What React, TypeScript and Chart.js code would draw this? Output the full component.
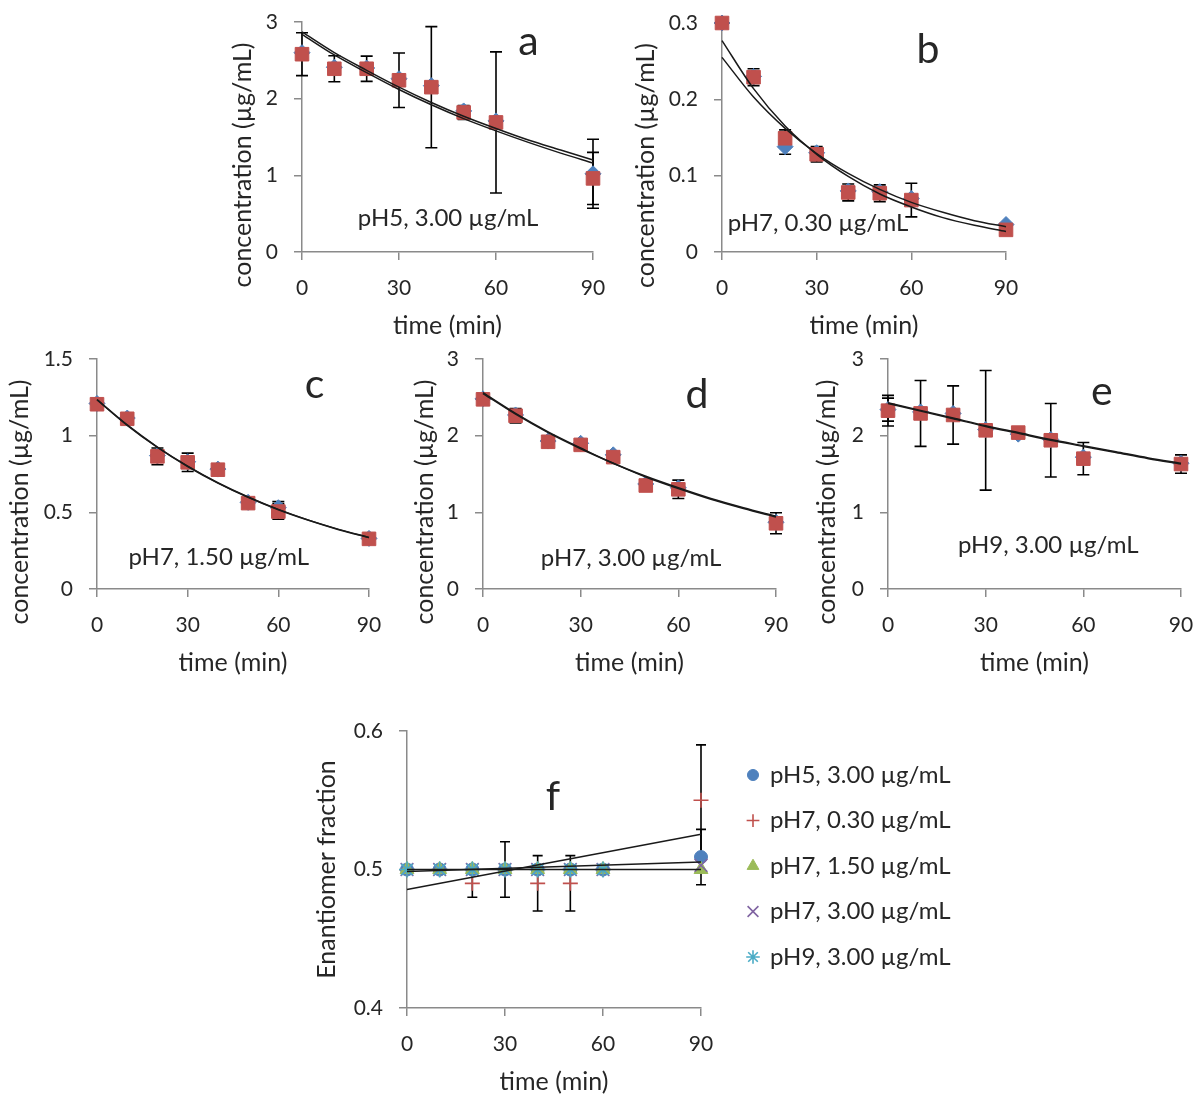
import React, { useEffect, useRef } from 'react';
import { Chart, registerables } from 'chart.js';
import { drawPoint } from 'chart.js/helpers';

Chart.register(...registerables);

const FONT = "Lato, 'Open Sans', 'DejaVu Sans', sans-serif";
const RED = '#C0504D';
const BLUE = '#4F81BD';
const GREEN = '#9BBB59';
const PURPLE = '#8064A2';
const CYAN = '#4BACC6';
const AXIS = '#8a8a8a';
const TEXT = '#262626';
const LINE = '#1a1a1a';

const TICK_SIZE = 21;
const TITLE_SIZE = 25;
const NOTE_SIZE = 24;
const LETTER_SIZE = 41;

// ---------- data ----------
const sampleTimes = [0, 10, 20, 30, 40, 50, 60, 90];
const fitTimes = [0, 10, 20, 30, 40, 50, 60, 70, 80, 90];
const xTickValues = [0, 30, 60, 90];

// panel a: pH5, 3.00 µg/mL
const aYTicks = [0, 1, 2, 3];
const aBlue = [2.6, 2.41, 2.4, 2.26, 2.17, 1.84, 1.71, 1.02];
const aBlueErr = [null, null, null, null, null, null, null, 0.45];
const aRed = [2.58, 2.39, 2.39, 2.24, 2.15, 1.82, 1.69, 0.96];
const aRedErr = [0.28, 0.17, 0.165, 0.355, 0.79, 0.09, 0.92, 0.34];
const aFit1 = [2.87, 2.6, 2.37, 2.15, 1.95, 1.77, 1.61, 1.46, 1.33, 1.2];
const aFit2 = [2.84, 2.57, 2.34, 2.12, 1.92, 1.74, 1.58, 1.43, 1.29, 1.16];

// panel b: pH7, 0.30 µg/mL
const bYTicks = [0, 0.1, 0.2, 0.3];
const bBlue = [0.3, 0.23, 0.138, 0.13, 0.08, 0.079, 0.07, 0.036];
const bBlueErr = [null, null, 0.01, null, null, null, null, null];
const bRed = [0.3, 0.229, 0.149, 0.128, 0.078, 0.077, 0.068, 0.029];
const bRedErr = [0.003, 0.011, 0.011, 0.01, 0.011, 0.011, 0.022, 0.003];
const bFit1 = [0.277, 0.214, 0.165, 0.128, 0.099, 0.076, 0.059, 0.045, 0.035, 0.027];
const bFit2 = [0.255, 0.203, 0.162, 0.129, 0.103, 0.082, 0.065, 0.052, 0.041, 0.033];

// panel c: pH7, 1.50 µg/mL
const cYTicks = [0, 0.5, 1, 1.5];
const cBlue = [1.21, 1.115, 0.87, 0.83, 0.782, 0.565, 0.53, 0.33];
const cBlueErr = [null, null, null, null, null, null, 0.04, null];
const cRed = [1.205, 1.11, 0.865, 0.826, 0.778, 0.56, 0.505, 0.327];
const cRedErr = [0.01, 0.01, 0.055, 0.06, 0.01, 0.01, 0.05, 0.01];
const cFit1 = [1.233, 1.067, 0.923, 0.799, 0.691, 0.598, 0.517, 0.448, 0.387, 0.335];
const cFit2 = [1.236, 1.07, 0.926, 0.801, 0.693, 0.6, 0.519, 0.449, 0.389, 0.336];

// panel d: pH7, 3.00 µg/mL
const dYTicks = [0, 1, 2, 3];
const dBlue = [2.48, 2.27, 1.93, 1.9, 1.75, 1.37, 1.32, 0.87];
const dBlueErr = [null, null, null, null, null, null, null, null];
const dRed = [2.474, 2.26, 1.92, 1.88, 1.72, 1.35, 1.3, 0.857];
const dRedErr = [0.02, 0.095, 0.03, 0.03, 0.03, 0.03, 0.12, 0.137];
const dFit1 = [2.55, 2.28, 2.04, 1.83, 1.64, 1.46, 1.31, 1.17, 1.05, 0.94];
const dFit2 = [2.56, 2.29, 2.05, 1.84, 1.64, 1.47, 1.32, 1.18, 1.06, 0.95];

// panel e: pH9, 3.00 µg/mL
const eYTicks = [0, 1, 2, 3];
const eBlue = [2.34, 2.31, 2.29, 2.08, 2.02, 1.95, 1.72, 1.64];
const eBlueErr = [0.15, null, null, null, null, null, null, null];
const eRed = [2.326, 2.29, 2.27, 2.07, 2.04, 1.94, 1.7, 1.63];
const eRedErr = [0.2, 0.43, 0.38, 0.78, 0.04, 0.48, 0.21, 0.12];
const eFit1 = [2.42, 2.32, 2.22, 2.12, 2.03, 1.94, 1.86, 1.78, 1.7, 1.63];
const eFit2 = [2.43, 2.33, 2.23, 2.13, 2.04, 1.95, 1.87, 1.79, 1.71, 1.64];

// panel f: enantiomer fraction
const fYTicks = [0.4, 0.5, 0.6];
const efPH5 = [0.5, 0.5, 0.5, 0.5, 0.5, 0.5, 0.5, 0.509];
const efPH5Err = [null, null, null, null, null, null, null, 0.02];
const efPH7Low = [0.5, 0.5, 0.49, 0.5, 0.49, 0.49, 0.5, 0.55];
const efPH7LowErr = [null, null, 0.01, 0.02, 0.02, 0.02, null, 0.04];
const efPH7Mid = [0.5, 0.5, 0.5, 0.5, 0.5, 0.5, 0.5, 0.5];
const efPH7High = [0.5, 0.5, 0.5, 0.5, 0.5, 0.5, 0.5, 0.503];
const efPH9 = [0.5, 0.5, 0.5, 0.5, 0.5, 0.5, 0.5, null];
const trendTimes = [0, 90];
const trendPH7Low = [0.4855, 0.5255];
const trendPH5 = [0.4985, 0.5055];
const trendFlat = [0.5, 0.5];

const CONC_TITLE = 'concentration (µg/mL)';

function pair(label, blue, blueErr, red, redErr) {
  return [
    { label: label + ' enantiomer 1', times: sampleTimes, values: blue, errors: blueErr, color: BLUE, style: 'rectRot', radius: 8, filled: true, order: 3 },
    { label: label + ' enantiomer 2', times: sampleTimes, values: red, errors: redErr, color: RED, style: 'rect', radius: 9.6, filled: true, order: 2 },
  ];
}
function fits(a, b) {
  return [
    { times: fitTimes, values: a, smooth: true },
    { times: fitTimes, values: b, smooth: true },
  ];
}

const panels = [
  {
    id: 'a', canvas: [220, 0, 400, 345], plot: [302, 22, 593, 252], yMin: 0, yMax: 3, yTicks: aYTicks,
    yTitle: CONC_TITLE, yTitleOffset: 59, yTitleShift: 28, letter: 'a', letterAt: [70, 2.74],
    note: 'pH5, 3.00 µg/mL', noteAt: [45.2, 0.44], cap: 6,
    series: pair('pH5', aBlue, aBlueErr, aRed, aRedErr), fits: fits(aFit1, aFit2),
  },
  {
    id: 'b', canvas: [630, 0, 400, 345], plot: [722, 23, 1006, 252], yMin: 0, yMax: 0.3, yTicks: bYTicks,
    yTitle: CONC_TITLE, yTitleOffset: 76, yTitleShift: 28, letter: 'b', letterAt: [65.3, 0.265],
    note: 'pH7, 0.30 µg/mL', noteAt: [30.4, 0.038], cap: 6,
    series: pair('pH7 0.30', bBlue, bBlueErr, bRed, bRedErr), fits: fits(bFit1, bFit2),
  },
  {
    id: 'c', canvas: [0, 345, 395, 345], plot: [97, 359, 369, 589], yMin: 0, yMax: 1.5, yTicks: cYTicks,
    yTitle: CONC_TITLE, yTitleOffset: 77, yTitleShift: 28, letter: 'c', letterAt: [72, 1.33],
    note: 'pH7, 1.50 µg/mL', noteAt: [40.3, 0.21], cap: 6,
    series: pair('pH7 1.50', cBlue, cBlueErr, cRed, cRedErr), fits: fits(cFit1, cFit2),
  },
  {
    id: 'd', canvas: [400, 345, 400, 345], plot: [483, 359, 776, 589], yMin: 0, yMax: 3, yTicks: dYTicks,
    yTitle: CONC_TITLE, yTitleOffset: 58, yTitleShift: 28, letter: 'd', letterAt: [65.7, 2.53],
    note: 'pH7, 3.00 µg/mL', noteAt: [45.5, 0.4], cap: 6,
    series: pair('pH7 3.00', dBlue, dBlueErr, dRed, dRedErr), fits: fits(dFit1, dFit2),
  },
  {
    id: 'e', canvas: [805, 345, 395, 345], plot: [888, 359, 1181, 589], yMin: 0, yMax: 3, yTicks: eYTicks,
    yTitle: CONC_TITLE, yTitleOffset: 61, yTitleShift: 28, letter: 'e', letterAt: [65.7, 2.57],
    note: 'pH9, 3.00 µg/mL', noteAt: [49.2, 0.574], cap: 6,
    series: pair('pH9', eBlue, eBlueErr, eRed, eRedErr), fits: fits(eFit1, eFit2),
  },
  {
    id: 'f', canvas: [300, 715, 700, 387], plot: [407, 731, 701, 1008], yMin: 0.4, yMax: 0.6, yTicks: fYTicks,
    yTitle: 'Enantiomer fraction', yTitleOffset: 80, yTitleShift: 0, letter: 'f', letterAt: [44.7, 0.5526],
    note: null, noteAt: null, cap: 5, legend: { markerDx: 52, textDx: 69, firstDy: 44, gap: 45.5 },
    series: [
      { label: 'pH5, 3.00 µg/mL', times: sampleTimes, values: efPH5, errors: efPH5Err, color: BLUE, style: 'circle', radius: 6.5, filled: true, order: 5 },
      { label: 'pH7, 0.30 µg/mL', times: sampleTimes, values: efPH7Low, errors: efPH7LowErr, color: RED, style: 'cross', radius: 7.5, filled: false, order: 4 },
      { label: 'pH7, 1.50 µg/mL', times: sampleTimes, values: efPH7Mid, errors: null, color: GREEN, style: 'triangle', radius: 8, filled: true, order: 3 },
      { label: 'pH7, 3.00 µg/mL', times: sampleTimes, values: efPH7High, errors: null, color: PURPLE, style: 'crossRot', radius: 9, filled: false, order: 2 },
      { label: 'pH9, 3.00 µg/mL', times: sampleTimes, values: efPH9, errors: null, color: CYAN, style: 'star', radius: 8, filled: false, order: 1 },
    ],
    fits: [
      { times: trendTimes, values: trendPH7Low, smooth: false },
      { times: trendTimes, values: trendPH5, smooth: false },
      { times: trendTimes, values: trendFlat, smooth: false },
    ],
  },
];

function font(size) {
  return { family: FONT, size, lineHeight: 1.2 };
}

function buildChart(canvas, p) {
  const [cl, ct, cw, ch] = p.canvas;
  const [pl, pt, pr, pbt] = p.plot;
  const yAxisW = pl - cl;
  const xAxisH = ct + ch - pbt;
  const padTop = pt - ct;
  const padRight = cl + cw - pr;

  const datasets = [];
  p.series.forEach((s) => {
    datasets.push({
      label: s.label,
      data: s.times.map((t, i) => ({ x: t, y: s.values[i] })),
      showLine: false,
      pointStyle: s.style,
      pointRadius: s.radius,
      pointHoverRadius: s.radius,
      pointBackgroundColor: s.filled ? s.color : 'rgba(0,0,0,0)',
      pointBorderColor: s.color,
      pointBorderWidth: s.filled ? 1 : 1.6,
      order: s.order,
      clip: false,
    });
  });
  p.fits.forEach((f, k) => {
    datasets.push({
      label: 'fit ' + (k + 1),
      data: f.times.map((t, i) => ({ x: t, y: f.values[i] })),
      showLine: true,
      borderColor: LINE,
      borderWidth: 1.5,
      pointRadius: 0,
      pointHoverRadius: 0,
      cubicInterpolationMode: f.smooth ? 'monotone' : 'default',
      tension: 0,
      fill: false,
      order: 0,
      clip: false,
    });
  });

  const decor = {
    id: 'decor',
    beforeDatasetsDraw(chart) {
      const { ctx } = chart;
      const xs = chart.scales.x;
      const ys = chart.scales.y;
      ctx.save();
      ctx.strokeStyle = '#000';
      ctx.lineWidth = 1.6;
      p.series.forEach((s) => {
        if (!s.errors) return;
        s.errors.forEach((e, i) => {
          const v = s.values[i];
          if (!e || v == null) return;
          const x = xs.getPixelForValue(s.times[i]);
          const yt = ys.getPixelForValue(v + e);
          const yb = ys.getPixelForValue(v - e);
          ctx.beginPath();
          ctx.moveTo(x, yt);
          ctx.lineTo(x, yb);
          ctx.moveTo(x - p.cap, yt);
          ctx.lineTo(x + p.cap, yt);
          ctx.moveTo(x - p.cap, yb);
          ctx.lineTo(x + p.cap, yb);
          ctx.stroke();
        });
      });
      ctx.restore();
    },
    afterDraw(chart) {
      const { ctx, chartArea: ca } = chart;
      const xs = chart.scales.x;
      const ys = chart.scales.y;
      ctx.save();
      ctx.fillStyle = TEXT;
      // y-axis title
      ctx.save();
      ctx.translate(ca.left - p.yTitleOffset, (ca.top + ca.bottom) / 2 + p.yTitleShift);
      ctx.rotate(-Math.PI / 2);
      ctx.textAlign = 'center';
      ctx.textBaseline = 'middle';
      ctx.font = `${TITLE_SIZE}px ${FONT}`;
      ctx.fillText(p.yTitle, 0, 0);
      ctx.restore();
      // panel letter
      ctx.textAlign = 'center';
      ctx.textBaseline = 'middle';
      ctx.font = `${LETTER_SIZE}px ${FONT}`;
      ctx.fillText(p.letter, xs.getPixelForValue(p.letterAt[0]), ys.getPixelForValue(p.letterAt[1]));
      // condition note
      if (p.note) {
        ctx.font = `${NOTE_SIZE}px ${FONT}`;
        ctx.fillText(p.note, xs.getPixelForValue(p.noteAt[0]), ys.getPixelForValue(p.noteAt[1]));
      }
      // legend
      if (p.legend) {
        const L = p.legend;
        ctx.textAlign = 'left';
        ctx.font = `${NOTE_SIZE}px ${FONT}`;
        p.series.forEach((s, i) => {
          const y = ca.top + L.firstDy + i * L.gap;
          ctx.save();
          ctx.fillStyle = s.filled ? s.color : 'rgba(0,0,0,0)';
          ctx.strokeStyle = s.color;
          ctx.lineWidth = s.filled ? 1 : 1.6;
          drawPoint(ctx, { pointStyle: s.style, radius: s.radius * 0.85, rotation: 0, borderWidth: s.filled ? 1 : 1.6 }, ca.right + L.markerDx, y);
          ctx.restore();
          ctx.fillStyle = TEXT;
          ctx.fillText(s.label, ca.right + L.textDx, y);
        });
      }
      ctx.restore();
    },
  };

  const gridOpts = { drawOnChartArea: false, drawTicks: true, tickLength: 8, color: AXIS, lineWidth: 1.5 };
  const borderOpts = { display: true, color: AXIS, width: 1.5 };

  return new Chart(canvas, {
    type: 'scatter',
    data: { datasets },
    plugins: [decor],
    options: {
      responsive: false,
      animation: false,
      devicePixelRatio: 1,
      events: [],
      layout: { padding: { top: padTop, right: padRight, bottom: 0, left: 0 } },
      plugins: { legend: { display: false }, tooltip: { enabled: false } },
      scales: {
        x: {
          type: 'linear',
          position: 'bottom',
          min: 0,
          max: 90,
          afterBuildTicks: (s) => { s.ticks = xTickValues.map((v) => ({ value: v })); },
          afterFit: (s) => {
            s.height = xAxisH;
            s.paddingLeft = 0;
            s.paddingRight = 0;
          },
          ticks: { color: TEXT, font: font(TICK_SIZE), padding: 36 - 8 - 0.6 * TICK_SIZE, maxRotation: 0, autoSkip: false, callback: (v) => String(v) },
          grid: gridOpts,
          border: borderOpts,
          title: { display: true, text: 'time (min)', color: TEXT, font: font(TITLE_SIZE), padding: { top: 0, bottom: xAxisH - 74 - 0.6 * TITLE_SIZE } },
        },
        y: {
          type: 'linear',
          position: 'left',
          min: p.yMin,
          max: p.yMax,
          afterBuildTicks: (s) => { s.ticks = p.yTicks.map((v) => ({ value: v })); },
          afterFit: (s) => {
            s.width = yAxisW;
            s.paddingTop = 0;
            s.paddingBottom = 0;
          },
          ticks: { color: TEXT, font: font(TICK_SIZE), padding: 16, autoSkip: false, callback: (v) => String(v) },
          grid: gridOpts,
          border: borderOpts,
        },
      },
    },
  });
}

function Panel({ p }) {
  const ref = useRef(null);
  useEffect(() => {
    const chart = buildChart(ref.current, p);
    return () => chart.destroy();
  }, [p]);
  const [l, t, w, h] = p.canvas;
  return (
    <canvas
      ref={ref}
      width={w}
      height={h}
      style={{ position: 'absolute', left: l, top: t, width: w, height: h }}
    />
  );
}

export default function App() {
  return (
    <div style={{ position: 'absolute', left: 0, top: 0, width: 1200, height: 1102, background: '#fff', overflow: 'hidden' }}>
      {panels.map((p) => (
        <Panel key={p.id} p={p} />
      ))}
    </div>
  );
}
